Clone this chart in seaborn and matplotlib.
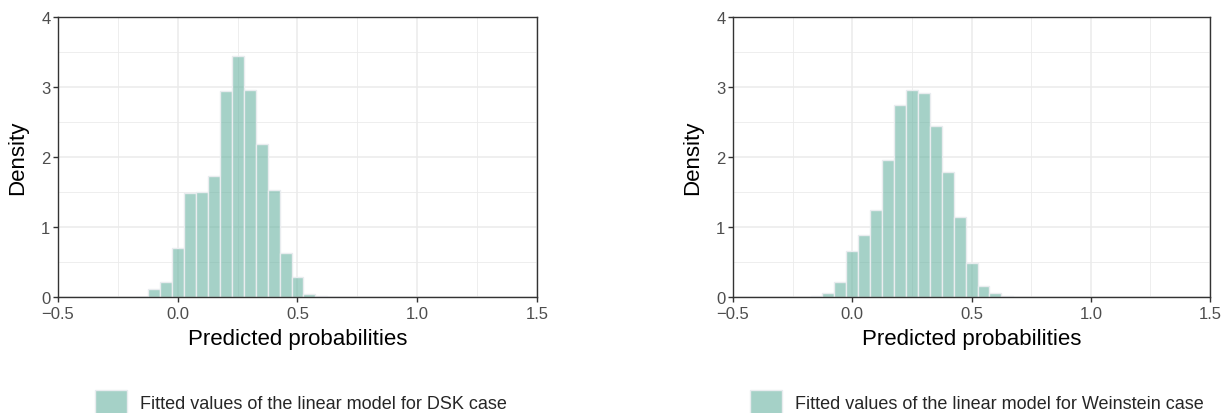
import matplotlib
matplotlib.use("Agg")
import matplotlib.pyplot as plt
from matplotlib.colors import to_rgba
from matplotlib.patches import Patch
from matplotlib.ticker import MultipleLocator
import seaborn as sns

# Histogram bins (bin centres, width 0.05) and densities
dsk_centers = [-0.10, -0.05, 0.00, 0.05, 0.10, 0.15, 0.20, 0.25, 0.30, 0.35,
               0.40, 0.45, 0.50, 0.55, 0.60]
dsk_density = [0.12, 0.21, 0.70, 1.48, 1.50, 1.73, 2.95, 3.45, 2.96, 2.19,
               1.53, 0.63, 0.29, 0.04, 0.01]

weinstein_centers = [-0.15, -0.10, -0.05, 0.00, 0.05, 0.10, 0.15, 0.20, 0.25,
                     0.30, 0.35, 0.40, 0.45, 0.50, 0.55, 0.60, 0.65]
weinstein_density = [0.01, 0.06, 0.22, 0.65, 0.88, 1.25, 1.96, 2.75, 2.96,
                     2.91, 2.44, 1.79, 1.15, 0.49, 0.15, 0.05, 0.01]

legend_labels = ["Fitted values of the linear model for DSK case",
                 "Fitted values of the linear model for Weinstein case"]

# Style
sns.set_theme(style="white")
plt.rcParams['font.family'] = ['Liberation Sans', 'DejaVu Sans']

fill = to_rgba('#69b3a2', 0.6)
edge = '#e9ecef'
dark = '#333333'

fig = plt.figure(figsize=(12.24, 4.14), dpi=100)
ax1 = fig.add_axes([0.0474, 0.2802, 0.3913, 0.6763])
ax2 = fig.add_axes([0.5989, 0.2802, 0.3897, 0.6763])

panels = [(ax1, dsk_centers, dsk_density, legend_labels[0], 0.0776),
          (ax2, weinstein_centers, weinstein_density, legend_labels[1], 0.6127)]

for ax, centers, dens, lab, lx in panels:
    sns.histplot(x=centers, weights=dens, binwidth=0.05, binrange=(-0.175, 0.675),
                 stat='count', ax=ax, color='#69b3a2', edgecolor=edge, linewidth=1.0)
    # fill transparent, border opaque like the original
    for p in ax.patches:
        p.set_alpha(None)
        p.set_facecolor(fill)
        p.set_edgecolor(edge)

    ax.set_xlim(-0.5, 1.5)
    ax.set_ylim(0, 4)
    ax.xaxis.set_minor_locator(MultipleLocator(0.25))
    ax.yaxis.set_minor_locator(MultipleLocator(0.5))
    ax.set_xticks([-0.5, 0.0, 0.5, 1.0, 1.5])
    ax.set_xticklabels(['\u22120.5', '0.0', '0.5', '1.0', '1.5'])
    ax.set_yticks([0, 1, 2, 3, 4])
    ax.set_yticklabels(['0', '1', '2', '3', '4'])

    ax.set_axisbelow(True)
    ax.grid(which='major', color='#ebebeb', linewidth=1.1)
    ax.grid(which='minor', color='#ebebeb', linewidth=0.6)

    for s in ax.spines.values():
        s.set_visible(True)
        s.set_color(dark)
        s.set_linewidth(1.0)

    ax.tick_params(axis='both', which='major', length=3.5, width=1.0, color=dark,
                   labelsize=12, labelcolor='#4d4d4d', pad=2,
                   bottom=True, left=True, top=False, right=False)
    ax.tick_params(axis='x', which='major', pad=3)
    ax.tick_params(axis='both', which='minor', length=0)

    ax.set_xlabel('Predicted probabilities', fontsize=16, color='black', labelpad=5)
    ax.set_ylabel('Density', fontsize=16, color='black', labelpad=9)

    handle = Patch(facecolor=fill, edgecolor=edge, linewidth=1.0)
    ax.legend([handle], [lab], loc='center left', bbox_to_anchor=(lx, 0.0266),
              bbox_transform=fig.transFigure, frameon=False, fontsize=13,
              borderpad=0, borderaxespad=0, handlelength=1.78, handleheight=1.75,
              handletextpad=0.72)

fig.savefig('out.png', dpi=100)
